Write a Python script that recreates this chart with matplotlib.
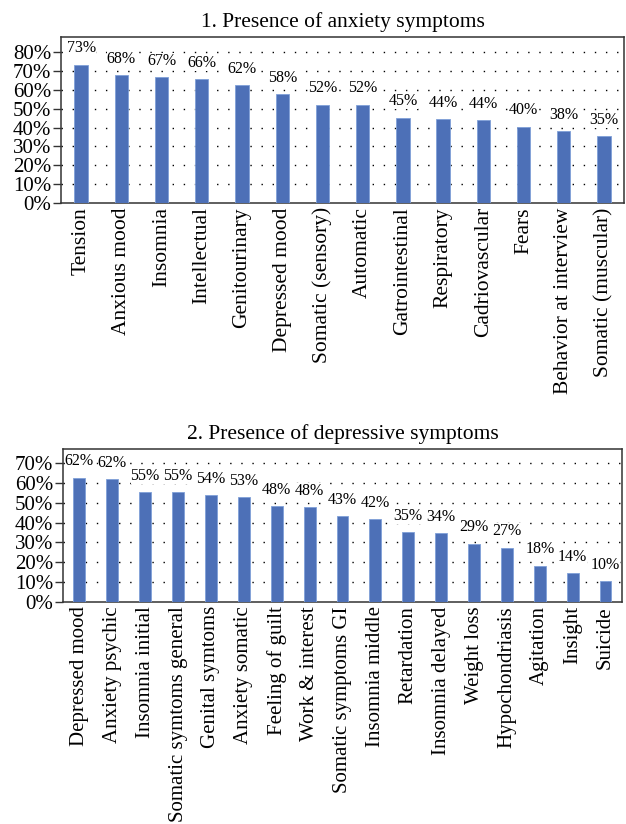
import matplotlib

matplotlib.use("Agg")
import matplotlib.pyplot as plt

plt.rcParams["font.family"] = ["Liberation Serif", "DejaVu Serif"]

anx_labels = ["Tension", "Anxious mood", "Insomnia", "Intellectual", "Genitourinary",
              "Depressed mood", "Somatic (sensory)", "Automatic", "Gatrointestinal",
              "Respiratory", "Cadriovascular", "Fears", "Behavior at interview",
              "Somatic (muscular)"]
anx_values = [73.3, 67.7, 66.7, 65.6, 62.3, 57.8, 52.2, 52.2, 45.3, 44.5, 43.8, 40.4, 38.1, 35.4]
anx_text = ["73%", "68%", "67%", "66%", "62%", "58%", "52%", "52%", "45%", "44%", "44%",
            "40%", "38%", "35%"]

dep_labels = ["Depressed mood", "Anxiety psychic", "Insomnia initial",
              "Somatic symtoms general", "Genital symtoms", "Anxiety somatic",
              "Feeling of guilt", "Work & interest", "Somatic symptoms GI",
              "Insomnia middle", "Retardation", "Insomnia delayed", "Weight loss",
              "Hypochondriasis", "Agitation", "Insight", "Suicide"]
dep_values = [62.6, 61.8, 55.3, 55.3, 53.7, 52.9, 48.4, 47.7, 43.3, 41.8, 35.3, 34.5,
              29.4, 27.3, 18.3, 14.5, 10.4]
dep_text = ["62%", "62%", "55%", "55%", "54%", "53%", "48%", "48%", "43%", "42%", "35%",
            "34%", "29%", "27%", "18%", "14%", "10%"]

BAR = "#4d70b7"


def draw(ax, labels, values, texts, title, ymax, ytop, width, xsize):
    x = range(len(labels))
    ax.bar(x, values, width=width, color=BAR, edgecolor="#7fa0d8", linewidth=0.6, zorder=3)
    for xi, v, t in zip(x, values, texts):
        ax.annotate(t, (xi, v), xytext=(0, 6), textcoords="offset points",
                    ha="center", va="bottom", fontsize=11.5, zorder=4,
                    bbox=dict(facecolor="white", edgecolor="none", pad=0))
    ax.set_xlim(-0.5, len(labels) - 0.5)
    ax.set_ylim(0, ytop)
    ticks = list(range(0, ymax + 1, 10))
    ax.set_yticks(ticks)
    ax.set_yticklabels([f"{t}%" for t in ticks], fontsize=15)
    for t in ticks[1:]:
        ax.axhline(t, color="black", linewidth=1.0, linestyle=(0, (1, 7)), zorder=1)
    ax.set_xticks(list(x))
    ax.set_xticklabels(labels, rotation=90, fontsize=xsize, va="top")
    ax.tick_params(axis="x", length=0, pad=3)
    ax.tick_params(axis="y", length=6, width=1.0, pad=1, color="#333333")
    for s in ax.spines.values():
        s.set_color("#333333")
        s.set_linewidth(1.1)
    ax.set_title(title, fontsize=15.5, pad=7)


fig = plt.figure(figsize=(6.26, 8.24), dpi=100)
ax1 = fig.add_axes([0.0974, 0.7536, 0.8996, 0.2015])
ax2 = fig.add_axes([0.1006, 0.2694, 0.8930, 0.1856])

draw(ax1, anx_labels, anx_values, anx_text, "1. Presence of anxiety symptoms", 80, 88, 0.33, 15.5)
draw(ax2, dep_labels, dep_values, dep_text, "2. Presence of depressive symptoms", 70, 77, 0.36, 15)

fig.savefig("out.png", dpi=100)
plt.close(fig)
